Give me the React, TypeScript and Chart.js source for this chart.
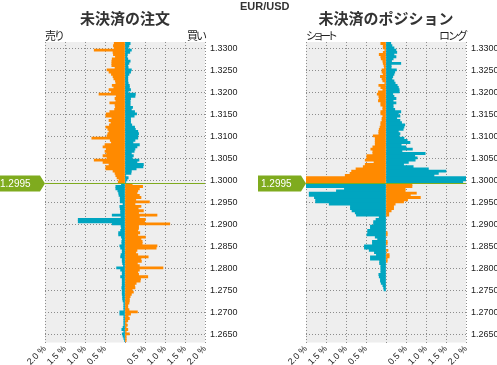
import React, { useEffect, useRef } from 'react';
import { Chart, registerables } from 'chart.js';
Chart.register(...registerables);

const PAIR_TITLE = 'EUR/USD';
const ORDERS_TITLE = '未決済の注文';
const POSITIONS_TITLE = '未決済のポジション';
const ORDERS_SIDE_LABELS = ['売り', '買い'];
const POSITIONS_SIDE_LABELS = ['ショート', 'ロング'];
const CURRENT_PRICE_TEXT = '1.2995';
const PRICE_LEVEL = 1.2993;
const BUCKET_SIZE = 0.0005;
const Y_MIN = 1.2631;
const Y_MAX = 1.3314;
const Y_TICKS = [1.33, 1.325, 1.32, 1.315, 1.31, 1.305, 1.3, 1.295, 1.29, 1.285, 1.28, 1.275, 1.27, 1.265];
const X_TICKS = [-2, -1.5, -1, -0.5, 0, 0.5, 1, 1.5, 2];

const ORANGE = '#ff8a00';
const TEAL = '#00a5c0';
const GREEN = '#7fab1e';
const PLOT_BG = '#eeeeee';
const GRID = '#8c8c8c';
const CJK = "'Noto Sans CJK JP', sans-serif";
const LATIN = "'Liberation Sans', Arial, sans-serif";

// values in %, buckets above the price line listed from the top down
const ORDERS_SELL_ABOVE = [0.27, 0.29, 0.27, 0.77, 0.30, 0.29, 0.24, 0.32, 0.33, 0.33, 0.33, 0.25, 0.45, 0.40, 0.34, 0.30, 0.28, 0.24, 0.23, 0.32, 0.28, 0.40, 0.34, 0.65, 0.22, 0.25, 0.23, 0.38, 0.25, 0.24, 0.26, 0.38, 0.47, 0.48, 0.33, 0.40, 0.35, 0.39, 0.48, 0.43, 0.40, 0.43, 0.45, 0.83, 0.37, 0.34, 0.50, 0.55, 0.47, 0.50, 0.46, 0.55, 0.45, 0.77, 0.55, 0.40, 0.48, 0.48, 0.30, 0.25, 0.23, 0.20, 0.15, 0.17];
const ORDERS_BUY_ABOVE = [0.13, 0.10, 0.08, 0.16, 0.12, 0.06, 0.05, 0.07, 0.13, 0.10, 0.07, 0.08, 0.16, 0.14, 0.10, 0.07, 0.07, 0.07, 0.08, 0.11, 0.11, 0.14, 0.08, 0.26, 0.25, 0.14, 0.13, 0.13, 0.13, 0.19, 0.16, 0.24, 0.29, 0.23, 0.14, 0.14, 0.14, 0.17, 0.24, 0.26, 0.32, 0.34, 0.32, 0.32, 0.25, 0.20, 0.36, 0.30, 0.25, 0.23, 0.16, 0.21, 0.18, 0.35, 0.30, 0.46, 0.45, 0.28, 0.16, 0.15, 0.02, 0.08, 0.05, 0.02];
// buckets below the price line listed from the line down
const ORDERS_SELL_BELOW = [0.09, 0.23, 0.23, 0.18, 0.16, 0.15, 0.12, 0.12, 0.12, 0.05, 0.13, 0.12, 0.11, 0.11, 0.32, 0.10, 1.17, 1.17, 0.32, 0.10, 0.09, 0.11, 0.16, 0.16, 0.09, 0.07, 0.08, 0.08, 0.13, 0.11, 0.07, 0.07, 0.10, 0.11, 0.07, 0.07, 0.06, 0.04, 0.21, 0.11, 0.07, 0.07, 0.11, 0.07, 0.07, 0.07, 0.07, 0.08, 0.07, 0.07, 0.07, 0.06, 0.06, 0.05, 0.03, 0.03, 0.03, 0.03, 0.13, 0.13, 0.03, 0.03, 0.03, 0.03, 0.03, 0.05, 0.08, 0.03, 0.07, 0.05, 0.03, 0.01];
const ORDERS_BUY_BELOW = [0.18, 0.44, 0.36, 0.32, 0.30, 0.36, 0.40, 0.27, 0.61, 0.25, 0.40, 0.33, 0.46, 0.34, 0.80, 0.36, 0.51, 0.49, 1.12, 0.34, 0.34, 0.32, 0.37, 0.32, 0.51, 0.40, 0.43, 0.43, 0.80, 0.78, 0.30, 0.27, 0.32, 0.58, 0.40, 0.41, 0.31, 0.36, 0.95, 0.36, 0.32, 0.34, 0.57, 0.39, 0.38, 0.28, 0.24, 0.25, 0.18, 0.21, 0.16, 0.13, 0.11, 0.11, 0.10, 0.07, 0.07, 0.10, 0.31, 0.14, 0.08, 0.11, 0.07, 0.03, 0.06, 0.03, 0.07, 0.03, 0.11, 0.03, 0.03, 0.03];

const POS_SHORT_ABOVE = [0.13, 0.07, 0.07, 0.03, 0.07, 0.17, 0.13, 0.12, 0.08, 0.07, 0.05, 0.04, 0.10, 0.10, 0.07, 0.14, 0.10, 0.08, 0.03, 0.18, 0.13, 0.08, 0.19, 0.22, 0.18, 0.17, 0.19, 0.13, 0.13, 0.08, 0.08, 0.13, 0.13, 0.08, 0.10, 0.10, 0.13, 0.13, 0.15, 0.17, 0.18, 0.18, 0.32, 0.27, 0.27, 0.27, 0.27, 0.33, 0.38, 0.33, 0.33, 0.48, 0.48, 0.52, 0.30, 0.52, 0.57, 0.75, 0.86, 0.90, 1.02, 2.40, 2.40, 2.30];
const POS_LONG_ABOVE = [0.12, 0.15, 0.20, 0.25, 0.27, 0.20, 0.25, 0.18, 0.14, 0.37, 0.13, 0.13, 0.26, 0.22, 0.20, 0.17, 0.15, 0.20, 0.23, 0.28, 0.31, 0.33, 0.33, 0.17, 0.20, 0.25, 0.18, 0.25, 0.18, 0.18, 0.22, 0.37, 0.31, 0.35, 0.27, 0.35, 0.39, 0.47, 0.45, 0.43, 0.31, 0.35, 0.33, 0.45, 0.53, 0.60, 0.38, 0.50, 0.66, 0.40, 0.98, 0.72, 0.78, 0.73, 0.56, 0.44, 0.68, 1.06, 1.50, 1.31, 1.20, 2.30, 2.20, 1.92];
const POS_SHORT_BELOW = [2.30, 2.30, 1.04, 1.24, 1.92, 1.92, 1.79, 1.76, 1.76, 1.42, 0.89, 0.89, 0.85, 0.77, 0.74, 0.17, 0.25, 0.31, 0.31, 0.39, 0.39, 0.46, 0.46, 0.48, 0.27, 0.21, 0.34, 0.34, 0.54, 0.54, 0.42, 0.29, 0.24, 0.39, 0.39, 0.16, 0.16, 0.13, 0.13, 0.13, 0.13, 0.18, 0.17, 0.14, 0.14, 0.12, 0.08, 0.06, 0.05, 0, 0, 0, 0, 0, 0, 0, 0, 0, 0, 0, 0, 0, 0, 0, 0, 0, 0, 0, 0, 0, 0, 0];
const POS_LONG_BELOW = [0.65, 0.65, 0.48, 0.48, 0.76, 0.61, 0.86, 0.54, 0.44, 0.23, 0.19, 0.19, 0.13, 0.07, 0.07, 0, 0, 0, 0, 0, 0, 0, 0.03, 0.03, 0, 0, 0.03, 0.03, 0, 0, 0.05, 0, 0.08, 0.08, 0.03, 0.03, 0, 0, 0, 0, 0, 0, 0, 0, 0, 0, 0, 0, 0, 0, 0, 0, 0, 0, 0, 0, 0, 0, 0, 0, 0, 0, 0, 0, 0, 0, 0, 0, 0, 0, 0, 0];

// price ladder (bucket centres)
const PRICES_ABOVE = ORDERS_SELL_ABOVE.map((_, i) => PRICE_LEVEL + BUCKET_SIZE * (ORDERS_SELL_ABOVE.length - i - 0.5));
const PRICES_BELOW = ORDERS_SELL_BELOW.map((_, i) => PRICE_LEVEL - BUCKET_SIZE * (i + 0.5));

type PanelProps = {
  title: string;
  sideLabels: string[];
  leftAbove: number[];
  rightAbove: number[];
  leftBelow: number[];
  rightBelow: number[];
  width: number;
  padLeft: number;
  axisWidth: number;
  labelSpacing: string[];
};

const decorPlugin = {
  id: 'decor',
  beforeDraw(chart: any) {
    const { ctx, chartArea: a } = chart;
    ctx.save();
    ctx.fillStyle = PLOT_BG;
    ctx.fillRect(a.left, a.top, a.right - a.left, a.bottom - a.top);
    ctx.restore();
  },
  afterDraw(chart: any, _args: any, opts: any) {
    const { ctx, chartArea: a } = chart;
    const y = Math.round(chart.scales.y.getPixelForValue(PRICE_LEVEL)) + 0.5;
    ctx.save();
    ctx.strokeStyle = GREEN;
    ctx.lineWidth = 1;
    ctx.beginPath();
    ctx.moveTo(a.left, y);
    ctx.lineTo(a.right, y);
    ctx.stroke();
    // price tag
    const tip = a.left;
    const body = a.left - 5;
    const x0 = a.left - 48;
    ctx.fillStyle = GREEN;
    ctx.beginPath();
    ctx.moveTo(x0, y - 8);
    ctx.lineTo(body, y - 8);
    ctx.lineTo(tip, y);
    ctx.lineTo(body, y + 8);
    ctx.lineTo(x0, y + 8);
    ctx.closePath();
    ctx.fill();
    ctx.fillStyle = '#ffffff';
    ctx.font = `10px ${LATIN}`;
    ctx.textAlign = 'left';
    ctx.textBaseline = 'middle';
    ctx.fillText(CURRENT_PRICE_TEXT, x0 + 3, y + 0.5);
    // side labels
    const labels: string[] = opts.labels || [];
    const spacing: string[] = opts.spacing || [];
    ctx.fillStyle = '#222';
    ctx.font = `11px ${CJK}`;
    ctx.textBaseline = 'bottom';
    if (labels[0]) {
      (ctx as any).letterSpacing = spacing[0] || '0px';
      ctx.textAlign = 'left';
      ctx.fillText(labels[0], a.left, a.top - 1);
    }
    if (labels[1]) {
      (ctx as any).letterSpacing = spacing[1] || '0px';
      ctx.textAlign = 'right';
      ctx.fillText(labels[1], a.right, a.top - 1);
    }
    ctx.restore();
  },
};

function Panel(p: PanelProps) {
  const ref = useRef<HTMLCanvasElement | null>(null);
  useEffect(() => {
    if (!ref.current) return;
    const prices = [...PRICES_ABOVE, ...PRICES_BELOW];
    const nAbove = PRICES_ABOVE.length;
    const leftVals = [...p.leftAbove, ...p.leftBelow];
    const rightVals = [...p.rightAbove, ...p.rightBelow];
    const leftData = leftVals.map((v, i) => ({ x: v > 0 ? -v : null, y: prices[i] }));
    const rightData = rightVals.map((v, i) => ({ x: v > 0 ? v : null, y: prices[i] }));
    const leftColors = prices.map((_, i) => (i < nAbove ? ORANGE : TEAL));
    const rightColors = prices.map((_, i) => (i < nAbove ? TEAL : ORANGE));
    const chart = new Chart(ref.current, {
      type: 'bar',
      data: {
        datasets: [
          { data: leftData as any, backgroundColor: leftColors, grouped: false, barPercentage: 1, categoryPercentage: 1, borderWidth: 0 } as any,
          { data: rightData as any, backgroundColor: rightColors, grouped: false, barPercentage: 1, categoryPercentage: 1, borderWidth: 0 } as any,
        ],
      },
      options: {
        indexAxis: 'y',
        responsive: false,
        animation: false,
        events: [],
        layout: { padding: { left: p.padLeft, right: 0, top: 0, bottom: 0 } },
        scales: {
          x: {
            type: 'linear',
            min: -2,
            max: 2,
            offset: false,
            afterBuildTicks: (s: any) => {
              s.ticks = X_TICKS.map((v) => ({ value: v }));
            },
            afterFit: (s: any) => {
              s.height = 22.5;
              s.paddingLeft = 0;
              s.paddingRight = 0;
            },
            ticks: {
              callback: (v: any) => (Number(v) === 0 ? '' : Math.abs(Number(v)).toFixed(1) + ' %'),
              minRotation: 45,
              maxRotation: 45,
              autoSkip: false,
              padding: 1,
              color: '#222',
              font: { family: LATIN, size: 9 },
            },
            grid: { color: GRID, drawTicks: false, lineWidth: 1, offset: false },
            border: { display: false, dash: [1, 2] },
          },
          y: {
            type: 'linear',
            position: 'right',
            min: Y_MIN,
            max: Y_MAX,
            offset: false,
            afterBuildTicks: (s: any) => {
              s.ticks = Y_TICKS.map((v) => ({ value: v }));
            },
            afterFit: (s: any) => {
              s.width = p.axisWidth;
              s.paddingTop = 0;
              s.paddingBottom = 0;
            },
            ticks: {
              callback: (v: any) => Number(v).toFixed(4),
              padding: 5,
              color: '#222',
              font: { family: LATIN, size: 9 },
              autoSkip: false,
            },
            grid: { color: GRID, drawTicks: false, lineWidth: 1, offset: false },
            border: { display: false, dash: [1, 2] },
          },
        },
        plugins: {
          legend: { display: false },
          tooltip: { enabled: false },
          title: {
            display: true,
            text: p.title,
            fullSize: false,
            color: '#333',
            font: { family: CJK, size: 15, weight: 'bold' },
            padding: { top: 9, bottom: 15 },
          },
          decor: { labels: p.sideLabels, spacing: p.labelSpacing },
        } as any,
      },
      plugins: [decorPlugin],
    });
    return () => chart.destroy();
  }, []);
  return <canvas ref={ref} width={p.width} height={365} style={{ display: 'block', width: p.width, height: 365 }} />;
}

export default function App() {
  return (
    <div style={{ position: 'absolute', left: 0, top: 0, width: 497, height: 365, background: '#fff', overflow: 'hidden' }}>
      <div style={{ position: 'absolute', left: 0, top: 0 }}>
        <Panel
          title={ORDERS_TITLE}
          sideLabels={ORDERS_SIDE_LABELS}
          leftAbove={ORDERS_SELL_ABOVE}
          rightAbove={ORDERS_BUY_ABOVE}
          leftBelow={ORDERS_SELL_BELOW}
          rightBelow={ORDERS_BUY_BELOW}
          width={250}
          padLeft={45}
          axisWidth={45}
          labelSpacing={['-2px', '-2px']}
        />
      </div>
      <div style={{ position: 'absolute', left: 250, top: 0 }}>
        <Panel
          title={POSITIONS_TITLE}
          sideLabels={POSITIONS_SIDE_LABELS}
          leftAbove={POS_SHORT_ABOVE}
          rightAbove={POS_LONG_ABOVE}
          leftBelow={POS_SHORT_BELOW}
          rightBelow={POS_LONG_BELOW}
          width={247}
          padLeft={56}
          axisWidth={31}
          labelSpacing={['-4px', '-2px']}
        />
      </div>
      <div
        style={{
          position: 'absolute',
          left: 240,
          top: 0,
          font: `bold 11px ${LATIN}`,
          color: '#333',
          lineHeight: '13px',
          whiteSpace: 'nowrap',
        }}
      >
        {PAIR_TITLE}
      </div>
    </div>
  );
}
